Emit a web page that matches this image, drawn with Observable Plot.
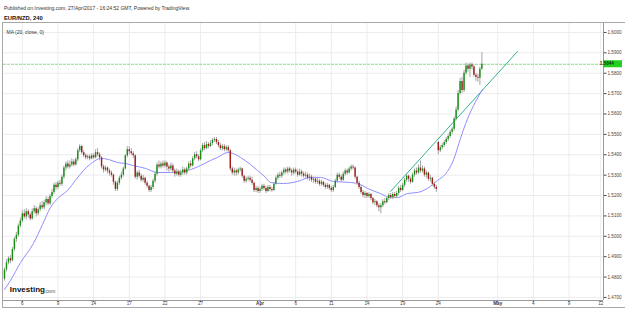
<!DOCTYPE html>
<html><head><meta charset="utf-8">
<script src="https://cdn.jsdelivr.net/npm/d3@7"></script>
<script src="https://cdn.jsdelivr.net/npm/@observablehq/plot@0.6"></script>
<style>
html,body{margin:0;padding:0;background:#fff;}
#wrap{position:relative;width:625px;height:309px;overflow:hidden;font-family:"Liberation Sans",Arial,sans-serif;}
#border{position:absolute;left:2px;top:22px;width:623px;height:286px;border-left:1px solid #a8a8a8;border-top:1px solid #a8a8a8;border-bottom:1px solid #a8a8a8;box-sizing:border-box;}
#chart{position:absolute;left:0;top:0;}
</style></head><body><div id="wrap"><div id="border"></div><div id="chart"></div></div>
<script>
// 4-hour bars, index 0 = first visible bar (2 Mar 2017)
const open = [1.4790,1.4835,1.4870,1.4890,1.4880,1.4935,1.4985,1.5005,1.5050,1.5075,1.5110,1.5095,1.5120,1.5105,1.5085,1.5120,1.5135,1.5110,1.5130,1.5150,1.5140,1.5165,1.5180,1.5160,1.5195,1.5215,1.5250,1.5240,1.5260,1.5255,1.5290,1.5335,1.5355,1.5340,1.5350,1.5365,1.5350,1.5375,1.5420,1.5440,1.5410,1.5395,1.5385,1.5390,1.5380,1.5395,1.5385,1.5410,1.5400,1.5385,1.5340,1.5325,1.5335,1.5320,1.5310,1.5300,1.5265,1.5230,1.5260,1.5285,1.5300,1.5330,1.5395,1.5425,1.5415,1.5405,1.5395,1.5290,1.5310,1.5295,1.5275,1.5285,1.5260,1.5245,1.5225,1.5240,1.5270,1.5305,1.5350,1.5340,1.5355,1.5345,1.5360,1.5340,1.5330,1.5345,1.5320,1.5305,1.5315,1.5300,1.5310,1.5325,1.5310,1.5330,1.5355,1.5345,1.5380,1.5400,1.5390,1.5375,1.5420,1.5445,1.5430,1.5450,1.5440,1.5455,1.5470,1.5475,1.5460,1.5445,1.5430,1.5440,1.5425,1.5435,1.5420,1.5330,1.5310,1.5320,1.5310,1.5325,1.5330,1.5295,1.5270,1.5280,1.5285,1.5275,1.5260,1.5225,1.5235,1.5220,1.5230,1.5245,1.5235,1.5220,1.5240,1.5230,1.5225,1.5255,1.5285,1.5300,1.5295,1.5310,1.5325,1.5315,1.5330,1.5320,1.5310,1.5325,1.5315,1.5300,1.5315,1.5305,1.5295,1.5300,1.5285,1.5290,1.5275,1.5280,1.5265,1.5270,1.5255,1.5265,1.5250,1.5240,1.5250,1.5235,1.5225,1.5240,1.5270,1.5300,1.5290,1.5275,1.5305,1.5320,1.5310,1.5330,1.5340,1.5335,1.5290,1.5260,1.5240,1.5215,1.5200,1.5210,1.5195,1.5205,1.5185,1.5165,1.5170,1.5150,1.5140,1.5150,1.5170,1.5165,1.5185,1.5200,1.5190,1.5205,1.5195,1.5210,1.5235,1.5225,1.5250,1.5275,1.5295,1.5280,1.5265,1.5300,1.5320,1.5310,1.5335,1.5320,1.5330,1.5300,1.5310,1.5280,1.5285,1.5255,1.5240,1.5460,1.5420,1.5435,1.5445,1.5460,1.5475,1.5490,1.5510,1.5525,1.5575,1.5620,1.5700,1.5760,1.5715,1.5800,1.5835,1.5820,1.5840,1.5830,1.5790,1.5780,1.5775,1.5820];
const high = [1.4845,1.4885,1.4900,1.4905,1.4945,1.4995,1.5020,1.5060,1.5090,1.5125,1.5130,1.5135,1.5130,1.5115,1.5135,1.5150,1.5145,1.5140,1.5165,1.5170,1.5175,1.5195,1.5190,1.5205,1.5230,1.5260,1.5265,1.5270,1.5275,1.5300,1.5345,1.5365,1.5370,1.5370,1.5380,1.5375,1.5385,1.5430,1.5450,1.5445,1.5420,1.5405,1.5400,1.5400,1.5405,1.5405,1.5425,1.5430,1.5410,1.5390,1.5350,1.5345,1.5340,1.5330,1.5320,1.5305,1.5270,1.5270,1.5295,1.5315,1.5340,1.5400,1.5440,1.5440,1.5430,1.5415,1.5400,1.5320,1.5325,1.5305,1.5300,1.5290,1.5270,1.5250,1.5250,1.5280,1.5315,1.5360,1.5370,1.5365,1.5370,1.5370,1.5365,1.5350,1.5360,1.5355,1.5330,1.5330,1.5325,1.5325,1.5340,1.5335,1.5340,1.5365,1.5370,1.5390,1.5410,1.5415,1.5400,1.5430,1.5455,1.5460,1.5465,1.5460,1.5470,1.5480,1.5485,1.5485,1.5470,1.5455,1.5450,1.5450,1.5445,1.5445,1.5425,1.5340,1.5335,1.5330,1.5335,1.5340,1.5335,1.5300,1.5290,1.5295,1.5295,1.5290,1.5265,1.5245,1.5245,1.5240,1.5255,1.5255,1.5245,1.5250,1.5250,1.5240,1.5265,1.5295,1.5310,1.5315,1.5320,1.5335,1.5335,1.5340,1.5340,1.5330,1.5335,1.5335,1.5325,1.5330,1.5325,1.5315,1.5315,1.5310,1.5305,1.5300,1.5290,1.5290,1.5285,1.5280,1.5275,1.5270,1.5260,1.5260,1.5255,1.5245,1.5250,1.5280,1.5310,1.5310,1.5300,1.5315,1.5330,1.5330,1.5340,1.5350,1.5350,1.5340,1.5295,1.5270,1.5250,1.5225,1.5220,1.5215,1.5215,1.5210,1.5190,1.5180,1.5175,1.5160,1.5160,1.5180,1.5185,1.5195,1.5210,1.5210,1.5215,1.5215,1.5220,1.5245,1.5250,1.5260,1.5285,1.5305,1.5300,1.5290,1.5310,1.5330,1.5335,1.5350,1.5370,1.5345,1.5340,1.5320,1.5315,1.5300,1.5290,1.5265,1.5250,1.5465,1.5445,1.5455,1.5470,1.5485,1.5500,1.5520,1.5535,1.5585,1.5635,1.5715,1.5775,1.5780,1.5815,1.5850,1.5845,1.5850,1.5850,1.5840,1.5800,1.5795,1.5830,1.5902];
const low = [1.4780,1.4825,1.4860,1.4865,1.4875,1.4925,1.4970,1.4995,1.5040,1.5065,1.5085,1.5080,1.5090,1.5075,1.5080,1.5110,1.5095,1.5100,1.5120,1.5130,1.5130,1.5150,1.5150,1.5150,1.5185,1.5205,1.5225,1.5230,1.5245,1.5245,1.5280,1.5320,1.5330,1.5330,1.5340,1.5340,1.5345,1.5365,1.5410,1.5400,1.5385,1.5375,1.5375,1.5370,1.5375,1.5378,1.5380,1.5390,1.5370,1.5330,1.5310,1.5315,1.5305,1.5295,1.5290,1.5250,1.5220,1.5220,1.5250,1.5275,1.5290,1.5325,1.5385,1.5400,1.5395,1.5380,1.5280,1.5275,1.5285,1.5265,1.5265,1.5250,1.5235,1.5215,1.5215,1.5230,1.5260,1.5295,1.5330,1.5330,1.5335,1.5335,1.5320,1.5315,1.5320,1.5310,1.5290,1.5295,1.5290,1.5290,1.5300,1.5300,1.5300,1.5320,1.5335,1.5340,1.5370,1.5380,1.5365,1.5370,1.5410,1.5420,1.5425,1.5430,1.5435,1.5445,1.5460,1.5450,1.5435,1.5420,1.5420,1.5415,1.5415,1.5410,1.5320,1.5300,1.5295,1.5295,1.5300,1.5315,1.5285,1.5260,1.5260,1.5270,1.5265,1.5250,1.5215,1.5215,1.5210,1.5210,1.5220,1.5225,1.5210,1.5215,1.5220,1.5215,1.5220,1.5250,1.5275,1.5285,1.5285,1.5300,1.5305,1.5305,1.5310,1.5295,1.5300,1.5305,1.5290,1.5295,1.5290,1.5285,1.5285,1.5275,1.5270,1.5265,1.5260,1.5255,1.5255,1.5245,1.5245,1.5240,1.5230,1.5230,1.5225,1.5215,1.5215,1.5235,1.5260,1.5280,1.5265,1.5270,1.5295,1.5300,1.5305,1.5320,1.5325,1.5280,1.5250,1.5230,1.5205,1.5190,1.5185,1.5185,1.5185,1.5175,1.5155,1.5150,1.5140,1.5120,1.5110,1.5140,1.5155,1.5160,1.5175,1.5180,1.5180,1.5185,1.5185,1.5200,1.5215,1.5220,1.5240,1.5265,1.5265,1.5255,1.5260,1.5290,1.5300,1.5305,1.5310,1.5310,1.5290,1.5285,1.5270,1.5265,1.5245,1.5230,1.5215,1.5400,1.5410,1.5425,1.5435,1.5450,1.5465,1.5480,1.5500,1.5515,1.5565,1.5610,1.5690,1.5700,1.5705,1.5790,1.5805,1.5780,1.5815,1.5780,1.5760,1.5755,1.5740,1.5815];
const close = [1.4835,1.4870,1.4890,1.4880,1.4935,1.4985,1.5005,1.5050,1.5075,1.5110,1.5095,1.5120,1.5105,1.5085,1.5120,1.5135,1.5110,1.5130,1.5150,1.5140,1.5165,1.5180,1.5160,1.5195,1.5215,1.5250,1.5240,1.5260,1.5255,1.5290,1.5335,1.5355,1.5340,1.5350,1.5365,1.5350,1.5375,1.5420,1.5440,1.5410,1.5395,1.5385,1.5390,1.5380,1.5395,1.5385,1.5410,1.5400,1.5385,1.5340,1.5325,1.5335,1.5320,1.5310,1.5300,1.5265,1.5230,1.5260,1.5285,1.5300,1.5330,1.5395,1.5425,1.5415,1.5405,1.5395,1.5290,1.5310,1.5295,1.5275,1.5285,1.5260,1.5245,1.5225,1.5240,1.5270,1.5305,1.5350,1.5340,1.5355,1.5345,1.5360,1.5340,1.5330,1.5345,1.5320,1.5305,1.5315,1.5300,1.5310,1.5325,1.5310,1.5330,1.5355,1.5345,1.5380,1.5400,1.5390,1.5375,1.5420,1.5445,1.5430,1.5450,1.5440,1.5455,1.5470,1.5475,1.5460,1.5445,1.5430,1.5440,1.5425,1.5435,1.5420,1.5330,1.5310,1.5320,1.5310,1.5325,1.5330,1.5295,1.5270,1.5280,1.5285,1.5275,1.5260,1.5225,1.5235,1.5220,1.5230,1.5245,1.5235,1.5220,1.5240,1.5230,1.5225,1.5255,1.5285,1.5300,1.5295,1.5310,1.5325,1.5315,1.5330,1.5320,1.5310,1.5325,1.5315,1.5300,1.5315,1.5305,1.5295,1.5300,1.5285,1.5290,1.5275,1.5280,1.5265,1.5270,1.5255,1.5265,1.5250,1.5240,1.5250,1.5235,1.5225,1.5240,1.5270,1.5300,1.5290,1.5275,1.5305,1.5320,1.5310,1.5330,1.5340,1.5335,1.5290,1.5260,1.5240,1.5215,1.5200,1.5210,1.5195,1.5205,1.5185,1.5165,1.5170,1.5150,1.5140,1.5150,1.5170,1.5165,1.5185,1.5200,1.5190,1.5205,1.5195,1.5210,1.5235,1.5225,1.5250,1.5275,1.5295,1.5280,1.5265,1.5300,1.5320,1.5310,1.5335,1.5320,1.5330,1.5300,1.5310,1.5280,1.5285,1.5255,1.5240,1.5230,1.5420,1.5435,1.5445,1.5460,1.5475,1.5490,1.5510,1.5525,1.5575,1.5620,1.5700,1.5760,1.5715,1.5800,1.5835,1.5820,1.5840,1.5830,1.5790,1.5780,1.5775,1.5820,1.5844];

// MA(20, close)
const maIndex = [0,3,8.1,14.6,19.2,23.2,27.3,31.8,35.8,39.9,44.4,48.5,52.5,57,61.1,65.1,71.2,77.2,83.8,92.4,98.9,104,107.5,112.6,115.6,119.1,124.2,127.7,131.8,134.3,140.8,147.9,154.5,159.5,166.1,174.7,179.7,183.2,189.8,194.8,198.4,203.4,208.5,213.5,218.6,222.6,226.7,230.2,233.7,237.8,241.3];
const maValue = [1.4739,1.4783,1.4871,1.4965,1.5058,1.5141,1.5190,1.5225,1.5274,1.5323,1.5362,1.5382,1.5377,1.5362,1.5357,1.5347,1.5333,1.5313,1.5313,1.5323,1.5347,1.5372,1.5387,1.5411,1.5406,1.5387,1.5352,1.5323,1.5289,1.5264,1.5259,1.5269,1.5289,1.5289,1.5269,1.5264,1.5254,1.5235,1.5210,1.5190,1.5190,1.5210,1.5215,1.5235,1.5274,1.5305,1.5375,1.5480,1.5575,1.5660,1.5720];

// drawn trend line
const trendIndex = [194.9, 259];
const trendValue = [1.5220, 1.5907];

const lastPrice = 1.5844;

const xTickIndex = [9,27,45,63,81,99,129,147,165,183,201,219,249,267,285,301];
const xTickLabel = ["6","9","14","17","22","27","Apr","6","11","14","19","24","May","4","9","12"];
const monthLabels = ["Apr","May"];
const yTicks = [1.47,1.48,1.49,1.50,1.51,1.52,1.53,1.54,1.55,1.56,1.57,1.58,1.59,1.60];

const headerLine1 = "Published on Investing.com, 27/Apr/2017 - 16:24:52 GMT, Powered by TradingView.";
const headerLine2 = "EUR/NZD, 240";
const studyLabel = "MA (20, close, 0)";

const bars = close.map((c, i) => ({i, o: open[i], h: high[i], l: low[i], c, up: c >= open[i]}));
const ma = maIndex.map((x, k) => ({x, y: maValue[k]}));
const trend = trendIndex.map((x, k) => ({x, y: trendValue[k]}));
const xt = xTickIndex.map((x, k) => ({x, label: xTickLabel[k], month: monthLabels.includes(xTickLabel[k])}));

const xDomain = [-0.5, 302.4];
const yDomain = [1.4685, 1.6044];

function priceLabel(index, scales, values, dims) {
  const y = scales.y(lastPrice);
  const x0 = dims.width - dims.marginRight;
  const g = d3.create("svg:g");
  g.append("rect").attr("x", x0).attr("y", y - 3.5).attr("width", 19).attr("height", 7).attr("fill", "#22d022");
  g.append("text").attr("x", x0 + 3.8).attr("y", y).attr("dy", "0.35em")
    .attr("font-size", 4.6).attr("font-weight", "bold").attr("fill", "#0b3d0b").text(lastPrice.toFixed(4));
  return g.node();
}

const chart = Plot.plot({
  width: 625, height: 309,
  marginLeft: 3, marginRight: 22, marginTop: 23, marginBottom: 9,
  style: {background: "transparent", fontFamily: "Liberation Sans, Arial, sans-serif", fontSize: "4.6px", color: "#444"},
  x: {type: "linear", domain: xDomain, axis: "bottom", ticks: xTickIndex, tickFormat: () => "", tickSize: 2, label: null},
  y: {type: "linear", domain: yDomain, axis: "right", ticks: yTicks, tickFormat: d => d.toFixed(4), tickSize: 2.5, tickPadding: 1.5, label: null},
  marks: [
    Plot.gridX(xTickIndex, {stroke: "#ececec", strokeOpacity: 1}),
    Plot.gridY(yTicks, {stroke: "#ececec", strokeOpacity: 1}),
    Plot.ruleY([lastPrice], {stroke: "#86dd86", strokeDasharray: "3,1"}),
    Plot.line(trend, {x: "x", y: "y", stroke: "#33b294", strokeWidth: 1}),
    Plot.line(ma, {x: "x", y: "y", stroke: "#8f8fff", strokeWidth: 1, curve: "monotone-x"}),
    Plot.ruleX(bars, {x: "i", y1: "l", y2: "h", stroke: "#a6a6a6", strokeWidth: 1}),
    Plot.ruleX(bars, {x: "i", y1: "o", y2: "c", stroke: d => d.up ? "#138f13" : "#a01818", strokeWidth: 1.4}),
    Plot.ruleX([xDomain[1]], {stroke: "#9a9a9a"}),
    Plot.ruleY([yDomain[0]], {stroke: "#9a9a9a"}),
    Plot.text(xt.filter(d => !d.month), {x: "x", text: "label", frameAnchor: "bottom", dy: 4.6, fontSize: 4.6, fill: "#444"}),
    Plot.text(xt.filter(d => d.month), {x: "x", text: "label", frameAnchor: "bottom", dy: 4.6, fontSize: 4.6, fontWeight: "bold", fill: "#333"}),
    priceLabel,
    Plot.text([headerLine1], {frameAnchor: "top-left", dx: 0.5, dy: -16.7, fontSize: 5, fill: "#333", textAnchor: "start"}),
    Plot.text([headerLine2], {frameAnchor: "top-left", dx: 0.5, dy: -7.7, fontSize: 5.8, fontWeight: "bold", fill: "#111", textAnchor: "start"}),
    Plot.text([studyLabel], {frameAnchor: "top-left", dx: 3, dy: 6.5, fontSize: 5, fill: "#333", textAnchor: "start"}),
    Plot.text(["Investing"], {frameAnchor: "bottom-left", dx: 6.3, dy: -8.3, fontSize: 8, fontWeight: "bold", fill: "#111", textAnchor: "start"}),
    Plot.text([".com"], {frameAnchor: "bottom-left", dx: 40.5, dy: -7.4, fontSize: 5.2, fill: "#555", textAnchor: "start"})
  ]
});
document.getElementById("chart").appendChild(chart);
</script>
</body></html>
